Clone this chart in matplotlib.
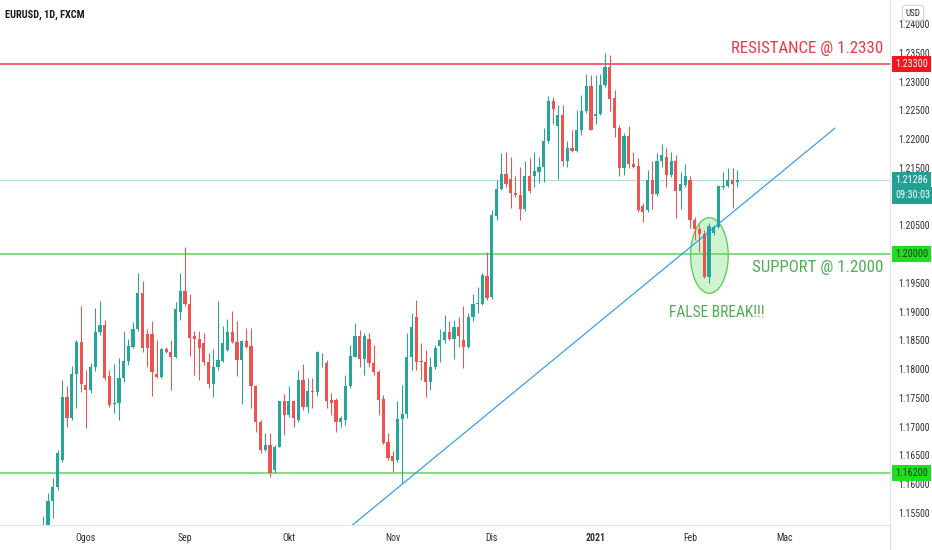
import matplotlib
matplotlib.use("Agg")
import numpy as np
import pandas as pd
import matplotlib.pyplot as plt
import matplotlib.transforms as mtransforms
from matplotlib import font_manager
from matplotlib.patches import Ellipse

# pick a narrow face if one is installed (the screenshot text is condensed)
avail = {f.name for f in font_manager.fontManager.ttflist}
narrow = [f for f in ("Liberation Sans Narrow", "Roboto Condensed", "Open Sans Condensed",
                      "DejaVu Sans Condensed") if f in avail]
plt.rcParams["font.family"] = narrow + ["DejaVu Sans"]
plt.rcParams["font.stretch"] = "condensed"

# daily bars EURUSD (FXCM), first bar 21 Jul 2020
dates = pd.bdate_range("2020-07-21", "2021-04-30", freq="C",
                       holidays=["2020-12-25", "2021-01-01"])

opens = [1.1465, 1.1524, 1.1570, 1.1596, 1.1642, 1.1752, 1.1715, 1.1792, 1.1848, 1.1773,
         1.1763, 1.1803, 1.1864, 1.1877, 1.1788, 1.1739, 1.1741, 1.1784, 1.1814, 1.1839,
         1.1869, 1.1932, 1.1861, 1.1861, 1.1792, 1.1787, 1.1835, 1.1830, 1.1822, 1.1900,
         1.1936, 1.1913, 1.1857, 1.1852, 1.1846, 1.1812, 1.1774, 1.1803, 1.1815, 1.1833,
         1.1864, 1.1847, 1.1816, 1.1849, 1.1841, 1.1771, 1.1709, 1.1660, 1.1668, 1.1624,
         1.1665, 1.1744, 1.1720, 1.1745, 1.1712, 1.1782, 1.1734, 1.1762, 1.1760, 1.1810,
         1.1811, 1.1747, 1.1746, 1.1709, 1.1712, 1.1770, 1.1822, 1.1858, 1.1817, 1.1853,
         1.1810, 1.1795, 1.1748, 1.1674, 1.1649, 1.1642, 1.1713, 1.1722, 1.1822, 1.1891,
         1.1814, 1.1813, 1.1778, 1.1803, 1.1841, 1.1851, 1.1864, 1.1853, 1.1874, 1.1851,
         1.1839, 1.1891, 1.1913, 1.1913, 1.1962, 1.1925, 1.2066, 1.2114, 1.2140, 1.2131,
         1.2107, 1.2102, 1.2078, 1.2136, 1.2135, 1.2143, 1.2151, 1.2197, 1.2267, 1.2222,
         1.2242, 1.2162, 1.2184, 1.2180, 1.2215, 1.2248, 1.2293, 1.2240, 1.2244, 1.2294,
         1.2325, 1.2271, 1.2219, 1.2150, 1.2206, 1.2157, 1.2153, 1.2084, 1.2076, 1.2129,
         1.2105, 1.2162, 1.2169, 1.2138, 1.2161, 1.2109, 1.2120, 1.2129, 1.2059, 1.2043,
         1.2035, 1.1961, 1.2037, 1.2047, 1.2117, 1.2119, 1.2129, 1.2126]
highs = [1.1544, 1.1584, 1.1610, 1.1660, 1.1782, 1.1770, 1.1806, 1.1851, 1.1910, 1.1799,
         1.1810, 1.1906, 1.1919, 1.1885, 1.1799, 1.1809, 1.1819, 1.1866, 1.1852, 1.1882,
         1.1967, 1.1954, 1.1869, 1.1884, 1.1851, 1.1836, 1.1838, 1.1851, 1.1917, 1.1967,
         1.2013, 1.1930, 1.1867, 1.1867, 1.1862, 1.1828, 1.1835, 1.1919, 1.1875, 1.1888,
         1.1901, 1.1883, 1.1851, 1.1871, 1.1871, 1.1773, 1.1712, 1.1689, 1.1689, 1.1668,
         1.1745, 1.1756, 1.1771, 1.1746, 1.1799, 1.1809, 1.1784, 1.1784, 1.1832, 1.1828,
         1.1816, 1.1758, 1.1749, 1.1718, 1.1790, 1.1842, 1.1881, 1.1868, 1.1862, 1.1862,
         1.1842, 1.1799, 1.1755, 1.1689, 1.1657, 1.1744, 1.1772, 1.1862, 1.1897, 1.1920,
         1.1845, 1.1833, 1.1822, 1.1842, 1.1869, 1.1894, 1.1883, 1.1886, 1.1891, 1.1909,
         1.1898, 1.1931, 1.1943, 1.1967, 1.2003, 1.2077, 1.2129, 1.2175, 1.2178, 1.2169,
         1.2136, 1.2152, 1.2161, 1.2167, 1.2177, 1.2169, 1.2219, 1.2274, 1.2273, 1.2259,
         1.2259, 1.2196, 1.2216, 1.2251, 1.2277, 1.2313, 1.2311, 1.2311, 1.2313, 1.2350,
         1.2346, 1.2286, 1.2224, 1.2210, 1.2223, 1.2178, 1.2167, 1.2088, 1.2146, 1.2161,
         1.2175, 1.2191, 1.2184, 1.2178, 1.2172, 1.2143, 1.2156, 1.2135, 1.2065, 1.2051,
         1.2042, 1.2054, 1.2050, 1.2120, 1.2143, 1.2149, 1.2149, 1.2146]
lows = [1.1440, 1.1515, 1.1541, 1.1590, 1.1639, 1.1700, 1.1712, 1.1732, 1.1761, 1.1697,
        1.1759, 1.1796, 1.1859, 1.1781, 1.1735, 1.1723, 1.1712, 1.1778, 1.1808, 1.1836,
        1.1866, 1.1830, 1.1803, 1.1753, 1.1784, 1.1784, 1.1828, 1.1763, 1.1819, 1.1886,
        1.1909, 1.1823, 1.1790, 1.1781, 1.1807, 1.1767, 1.1752, 1.1798, 1.1813, 1.1832,
        1.1845, 1.1788, 1.1739, 1.1836, 1.1732, 1.1691, 1.1654, 1.1658, 1.1612, 1.1619,
        1.1664, 1.1686, 1.1717, 1.1700, 1.1709, 1.1729, 1.1724, 1.1732, 1.1753, 1.1804,
        1.1732, 1.1720, 1.1691, 1.1700, 1.1703, 1.1768, 1.1821, 1.1804, 1.1790, 1.1804,
        1.1790, 1.1720, 1.1670, 1.1642, 1.1622, 1.1639, 1.1602, 1.1715, 1.1799, 1.1799,
        1.1781, 1.1752, 1.1764, 1.1800, 1.1813, 1.1845, 1.1850, 1.1817, 1.1839, 1.1802,
        1.1836, 1.1883, 1.1897, 1.1911, 1.1921, 1.1922, 1.2060, 1.2112, 1.2117, 1.2080,
        1.2100, 1.2059, 1.2075, 1.2106, 1.2117, 1.2123, 1.2126, 1.2193, 1.2227, 1.2130,
        1.2153, 1.2152, 1.2178, 1.2177, 1.2207, 1.2246, 1.2215, 1.2227, 1.2242, 1.2291,
        1.2248, 1.2204, 1.2135, 1.2137, 1.2149, 1.2149, 1.2074, 1.2055, 1.2074, 1.2078,
        1.2101, 1.2152, 1.2117, 1.2134, 1.2062, 1.2079, 1.2117, 1.2045, 1.2025, 1.2004,
        1.1959, 1.1950, 1.2033, 1.2045, 1.2114, 1.2116, 1.2080, 1.2117]
closes = [1.1524, 1.1570, 1.1596, 1.1655, 1.1752, 1.1715, 1.1792, 1.1848, 1.1775, 1.1763,
          1.1804, 1.1864, 1.1877, 1.1784, 1.1738, 1.1741, 1.1785, 1.1814, 1.1841, 1.1870,
          1.1932, 1.1836, 1.1836, 1.1795, 1.1787, 1.1835, 1.1830, 1.1822, 1.1904, 1.1936,
          1.1913, 1.1855, 1.1852, 1.1836, 1.1812, 1.1774, 1.1804, 1.1816, 1.1845, 1.1864,
          1.1847, 1.1816, 1.1849, 1.1838, 1.1771, 1.1709, 1.1660, 1.1668, 1.1619, 1.1665,
          1.1744, 1.1720, 1.1745, 1.1715, 1.1782, 1.1734, 1.1762, 1.1760, 1.1830, 1.1811,
          1.1745, 1.1742, 1.1709, 1.1715, 1.1770, 1.1823, 1.1858, 1.1817, 1.1858, 1.1810,
          1.1795, 1.1746, 1.1672, 1.1645, 1.1641, 1.1713, 1.1722, 1.1822, 1.1874, 1.1813,
          1.1812, 1.1778, 1.1803, 1.1836, 1.1851, 1.1864, 1.1853, 1.1874, 1.1857, 1.1839,
          1.1891, 1.1913, 1.1915, 1.1964, 1.1923, 1.2068, 1.2114, 1.2140, 1.2122, 1.2106,
          1.2102, 1.2078, 1.2136, 1.2110, 1.2145, 1.2152, 1.2197, 1.2267, 1.2253, 1.2242,
          1.2162, 1.2184, 1.2180, 1.2216, 1.2248, 1.2293, 1.2216, 1.2244, 1.2294, 1.2325,
          1.2269, 1.2219, 1.2150, 1.2206, 1.2157, 1.2152, 1.2076, 1.2074, 1.2129, 1.2105,
          1.2162, 1.2172, 1.2138, 1.2161, 1.2109, 1.2122, 1.2135, 1.2059, 1.2043, 1.2035,
          1.1961, 1.2049, 1.2047, 1.2118, 1.2119, 1.2129, 1.2121, 1.21286]

resistance = 1.2330
support = 1.2000
support_low = 1.1620
last_price = 1.21286
countdown = "09:30:03"
countdown_at = 1.21019      # second tag sits just under the last price
trend_a = (76, 1.1600)      # bar index, price
trend_b = (167.7, 1.2219)

month_abbr = {1: "Jan", 2: "Feb", 3: "Mac", 4: "Apr", 5: "Mei", 6: "Jun", 7: "Jul",
              8: "Ogos", 9: "Sep", 10: "Okt", 11: "Nov", 12: "Dis"}

GREEN = "#26a69a"
RED = "#ef5350"
LINE_RED = "#f23645"
LINE_GREEN = "#5fd35f"
TAG_GREEN = "#1ee01e"
TXT = "#2a2e39"

o = np.array(opens); h = np.array(highs); l = np.array(lows); c = np.array(closes)
idx = np.arange(len(o))
col = np.where(c >= o, GREEN, RED)

fig = plt.figure(figsize=(9.32, 5.5), dpi=100)
ax = fig.add_axes([0, 25 / 550, 890 / 932, 525 / 550])
ax.set_xlim(-9.19, 179.36)
ax.set_ylim(1.15291, 1.24417)

# candles
ax.vlines(idx, l, h, colors=col, lw=0.75, zorder=3)
ax.bar(idx, np.maximum(np.abs(c - o), 0.00012), bottom=np.minimum(o, c), width=0.68,
       color=col, linewidth=0, zorder=4)

# horizontal levels
ax.axhline(resistance, color=LINE_RED, lw=1.1, zorder=2)
ax.axhline(support, color=LINE_GREEN, lw=1.1, zorder=2)
ax.axhline(support_low, color=LINE_GREEN, lw=1.1, zorder=2)
ax.axhline(last_price, color=GREEN, lw=0.8, alpha=0.35, zorder=2)

# trend line (drawn from below the chart up to its right end)
slope = (trend_b[1] - trend_a[1]) / (trend_b[0] - trend_a[0])
tx = np.array([trend_a[0] - 20, trend_b[0]])
ax.plot(tx, trend_a[1] + slope * (tx - trend_a[0]), color="#2196f3", lw=0.8, zorder=5)

# false-break ellipse
ax.add_patch(Ellipse((141.1, 1.19976), 7.97, 0.01314, facecolor=(0.35, 0.85, 0.35, 0.28),
                     edgecolor="#5ad25a", lw=1, zorder=1))

ax.text(177.9, 1.23578, "RESISTANCE @ 1.2330", color=LINE_RED, fontsize=12.2,
        ha="right", va="center")
ax.text(177.9, 1.19771, "SUPPORT @ 1.2000", color="#4caf50", fontsize=12.2,
        ha="right", va="center")
ax.text(142.7, 1.18982, "FALSE BREAK!!!", color="#4caf50", fontsize=11.2,
        ha="center", va="center")

# axes styling
for s in ("top", "left"):
    ax.spines[s].set_visible(False)
ax.spines["right"].set_color("#e0e3eb")
ax.spines["bottom"].set_color("#e0e3eb")

# price scale; levels hidden under a tag get no label
tags = [resistance, last_price, countdown_at, support, support_low]
ax.yaxis.tick_right()
yt = np.arange(1.155, 1.24001, 0.005)
ax.set_yticks(yt)
ax.set_yticklabels(["" if min(abs(v - t) for t in tags) < 0.0015 else f"{v:.5f}" for v in yt])
ax.tick_params(axis="y", length=0, pad=6, labelsize=7, labelcolor=TXT)

first = [i for i in range(1, len(dates)) if dates[i].month != dates[i - 1].month]
first = [i for i in first if i < 179]
ax.set_xticks(first)
labels = [str(dates[i].year) if dates[i].month == 1 else month_abbr[dates[i].month] for i in first]
ax.set_xticklabels(labels)
ax.tick_params(axis="x", length=0, pad=6, labelsize=7, labelcolor=TXT)
for t in ax.get_xticklabels():
    if t.get_text().isdigit():
        t.set_fontweight("bold")

# price tags on the scale
trans = mtransforms.blended_transform_factory(ax.transAxes, ax.transData)


def tag(price, text, fc, tc):
    ax.annotate(text, xy=(1, price), xycoords=trans, xytext=(3.6, 0), textcoords="offset points",
                ha="left", va="center", fontsize=7.3, color=tc, zorder=10, annotation_clip=False,
                bbox=dict(boxstyle="square,pad=0.3", fc=fc, ec="none"))


tag(resistance, f"{resistance:.5f}", "#f7141e", "white")
tag(last_price, f"{last_price:.5f}", "#22a093", "white")
tag(countdown_at, countdown, "#22a093", "white")
tag(support, f"{support:.5f}", TAG_GREEN, "#1b3a1b")
tag(support_low, f"{support_low:.5f}", TAG_GREEN, "#1b3a1b")

fig.text(913 / 932, 1 - 13 / 550, "USD", fontsize=6.5, color=TXT, ha="center", va="center",
         bbox=dict(boxstyle="round,pad=0.35", fc="white", ec="#d1d4dc", lw=0.8))
fig.text(5 / 932, 1 - 15 / 550, "EURUSD, 1D, FXCM", fontsize=7.5, fontweight="bold",
         color="#131722", ha="left", va="center")
fig.add_artist(plt.Line2D([890 / 932, 890 / 932], [0, 25 / 550], transform=fig.transFigure,
                          color="#e0e3eb", lw=1))

fig.savefig("out.png", dpi=100)
